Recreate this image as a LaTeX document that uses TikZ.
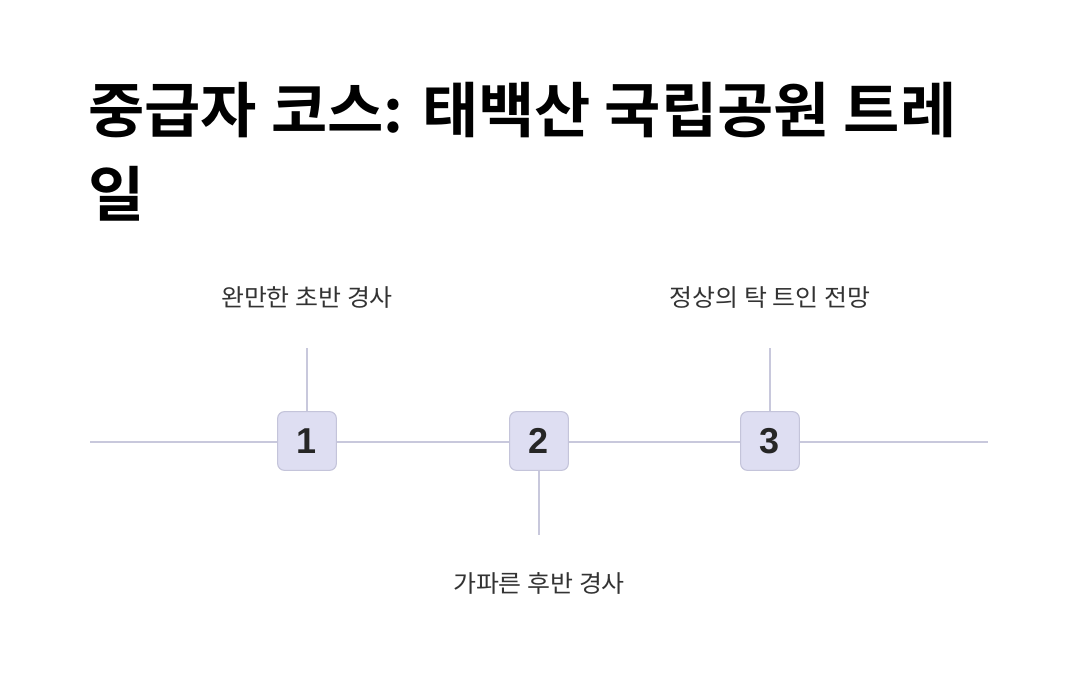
\documentclass[tikz,border=0pt]{standalone}
\usepackage{fontspec}
\setmainfont{Liberation Sans}
\newfontfamily\krbold[FakeStretch=1.02]{Noto Sans CJK KR Bold}
\newfontfamily\krtext[FakeStretch=1.04]{Noto Sans CJK KR}
\definecolor{trackline}{HTML}{C8C8DC}
\definecolor{stopfill}{HTML}{DEDEF2}
\definecolor{stopedge}{HTML}{C4C4DA}
\definecolor{labeltext}{HTML}{333333}
\tikzset{
  stopbox/.style={draw=stopedge, fill=stopfill, line width=0.8pt, rounded corners=5pt,
    minimum width=44pt, minimum height=44pt, inner sep=0pt,
    font=\fontsize{27}{30}\selectfont\bfseries, text=black!85},
  track/.style={draw=trackline, line width=1.5pt},
  stoplabel/.style={font=\krtext\fontsize{18}{22}\selectfont, text=labeltext, inner sep=0pt}
}
\begin{document}
\begin{tikzpicture}[x=0.75pt,y=-0.75pt]
\useasboundingbox[fill=white] (0,0) rectangle (1076,674);
% title
\node[anchor=west, align=left, inner sep=0pt, font=\krbold\fontsize{45}{63}\selectfont]
  (title) at (88,152) {중급자 코스: 태백산 국립공원 트레\\일};
% timeline
\coordinate (start) at (90,442);
\coordinate (end) at (988,442);
\draw[track] (start) -- (end);
\node[stopbox] (s1) at (307,441) {1};
\node[stopbox] (s2) at (539,441) {2};
\node[stopbox] (s3) at (770,441) {3};
\coordinate (t1) at (307,348);
\coordinate (t2) at (539,535);
\coordinate (t3) at (770,348);
\draw[track] (s1.north) -- (t1);
\draw[track] (s2.south) -- (t2);
\draw[track] (s3.north) -- (t3);
% labels
\node[stoplabel] (l1) at (307,298) {완만한 초반 경사};
\node[stoplabel] (l2) at (539,583) {가파른 후반 경사};
\node[stoplabel] (l3) at (770,298) {정상의 탁 트인 전망};
\end{tikzpicture}
\end{document}
